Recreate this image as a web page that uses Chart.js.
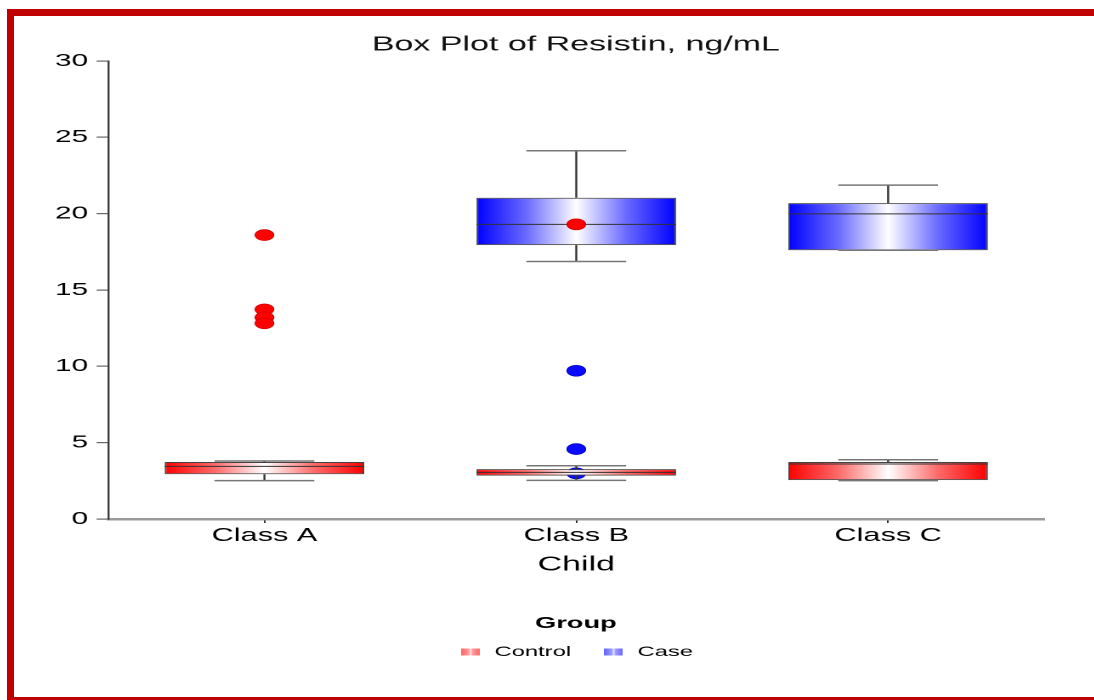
<!DOCTYPE html>
<html>
<head>
<meta charset="utf-8">
<title>Box Plot of Resistin</title>
<script src="https://cdn.jsdelivr.net/npm/chart.js@4.4.1/dist/chart.umd.min.js"></script>
<style>
  html, body { margin: 0; padding: 0; background: #fff; overflow: hidden; width: 1094px; height: 700px; }
  #frame { position: absolute; left: 7px; top: 9px; width: 2000px; height: 681px; border: 7px solid #c00000; border-right: none; }
  /* the source picture is stretched sideways, so the chart is drawn narrow and scaled in x */
  #stretch { position: absolute; left: 14px; top: 16px; width: 661px; height: 681px; transform: scaleX(1.7); transform-origin: 0 0; }
</style>
</head>
<body>
<div id="frame"></div>
<div id="stretch"><canvas id="boxChart" width="661" height="681"></canvas></div>
<script>
// Data
const categories = ["Class A", "Class B", "Class C"]
const yTicks = [0, 5, 10, 15, 20, 25, 30]

const controlQ1 = [2.93, 2.84, 2.55]
const controlQ3 = [3.73, 3.27, 3.73]
const controlMedian = [3.45, 3.05, 3.6]
const controlMin = [2.51, 2.53, 2.51]
const controlMax = [3.8, 3.49, 3.88]

const caseQ1 = [null, 17.94, 17.6]
const caseQ3 = [null, 21.04, 20.69]
const caseMedian = [null, 19.3, 19.99]
const caseMin = [null, 16.87, 17.6]
const caseMax = [null, 24.12, 21.87]

const controlOutlierCats = ["Class A", "Class A", "Class A", "Class A", "Class B"]
const controlOutlierValues = [18.6, 13.73, 13.2, 12.82, 19.3]
const caseOutlierCats = ["Class B", "Class B", "Class B"]
const caseOutlierValues = [9.71, 4.58, 2.99]

const BOX_PCT = 0.64
const FONT = "'Liberation Sans', Arial, sans-serif"

// horizontal gradient: saturated edges, white middle
function boxFill(edge, soft) {
  return (context) => {
    const chart = context.chart
    const xs = chart.scales.x
    if (context.type !== "data" || !xs || !xs.width) return edge
    const cx = xs.getPixelForValue(context.dataIndex)
    const half = (xs.width / categories.length) * BOX_PCT / 2
    const g = chart.ctx.createLinearGradient(cx - half, 0, cx + half, 0)
    g.addColorStop(0, edge)
    g.addColorStop(0.25, soft)
    g.addColorStop(0.5, "#ffffff")
    g.addColorStop(0.75, soft)
    g.addColorStop(1, edge)
    return g
  }
}

// little striped legend icons
function legendIcon(dark, mid, light) {
  const c = document.createElement("canvas")
  c.width = 11
  c.height = 7
  const g = c.getContext("2d")
  const grad = g.createLinearGradient(0, 0, 11, 0)
  grad.addColorStop(0, dark)
  grad.addColorStop(0.4, mid)
  grad.addColorStop(0.5, light)
  grad.addColorStop(0.6, mid)
  grad.addColorStop(1, dark)
  g.fillStyle = grad
  g.fillRect(0, 0, 11, 7)
  return c
}
const redIcon = legendIcon("#ff6464", "#ff9c9c", "#ffe4e4")
const blueIcon = legendIcon("#6464ff", "#9c9cff", "#e4e4ff")

function pairs(lo, hi) {
  return lo.map((v, i) => (v == null ? null : [v, hi[i]]))
}
function points(cats, vals) {
  return cats.map((c, i) => ({ x: c, y: vals[i] }))
}

// whiskers, caps and median drawn right after each box dataset
const whiskerPlugin = {
  id: "whiskers",
  afterDatasetDraw(chart, args) {
    const ds = chart.data.datasets[args.index]
    if (!ds.stats) return
    const y = chart.scales.y
    const ctx = chart.ctx
    ctx.save()
    args.meta.data.forEach((bar, i) => {
      const box = ds.data[i]
      if (!box) return
      const x = bar.x
      const w = bar.width
      const pLo = y.getPixelForValue(box[0])
      const pHi = y.getPixelForValue(box[1])
      const pMin = y.getPixelForValue(ds.stats.min[i])
      const pMax = y.getPixelForValue(ds.stats.max[i])
      const pMed = y.getPixelForValue(ds.stats.median[i])
      ctx.strokeStyle = "#333"
      ctx.lineWidth = 1.2
      ctx.beginPath()
      ctx.moveTo(x, pHi)
      ctx.lineTo(x, pMax)
      ctx.moveTo(x, pLo)
      ctx.lineTo(x, pMin)
      ctx.stroke()
      ctx.strokeStyle = "#777"
      ctx.lineWidth = 1.5
      ctx.beginPath()
      ctx.moveTo(x - w / 4, pMax)
      ctx.lineTo(x + w / 4, pMax)
      ctx.moveTo(x - w / 4, pMin)
      ctx.lineTo(x + w / 4, pMin)
      ctx.stroke()
      ctx.strokeStyle = "#333"
      ctx.lineWidth = 1
      ctx.beginPath()
      ctx.moveTo(x - w / 2, pMed)
      ctx.lineTo(x + w / 2, pMed)
      ctx.stroke()
    })
    ctx.restore()
  },
}

const ctx = document.getElementById("boxChart").getContext("2d")

const boxChart = new Chart(ctx, {
  type: "bar",
  data: {
    labels: categories,
    datasets: [
      {
        label: "Control",
        data: pairs(controlQ1, controlQ3),
        stats: { min: controlMin, median: controlMedian, max: controlMax },
        backgroundColor: boxFill("#ff0000", "#ff6a6a"),
        borderColor: "#444",
        borderWidth: 1,
        borderSkipped: false,
        grouped: false,
        barPercentage: 1,
        categoryPercentage: BOX_PCT,
        order: 2,
      },
      {
        label: "Case",
        data: pairs(caseQ1, caseQ3),
        stats: { min: caseMin, median: caseMedian, max: caseMax },
        backgroundColor: boxFill("#0000ff", "#6a6aff"),
        borderColor: "#444",
        borderWidth: 1,
        borderSkipped: false,
        grouped: false,
        barPercentage: 1,
        categoryPercentage: BOX_PCT,
        order: 4,
      },
      {
        type: "line",
        label: "Control outliers",
        data: points(controlOutlierCats, controlOutlierValues),
        showLine: false,
        pointRadius: 5.5,
        pointBackgroundColor: "#ff0000",
        pointBorderColor: "#d00000",
        pointBorderWidth: 0.6,
        order: 1,
      },
      {
        type: "line",
        label: "Case outliers",
        data: points(caseOutlierCats, caseOutlierValues),
        showLine: false,
        pointRadius: 5.5,
        pointBackgroundColor: "#0a0aff",
        pointBorderColor: "#0000c0",
        pointBorderWidth: 0.6,
        order: 3,
      },
    ],
  },
  options: {
    responsive: false,
    animation: false,
    devicePixelRatio: 2,
    layout: { padding: { left: 0, right: 0, top: 0, bottom: 28 } },
    scales: {
      x: {
        offset: true,
        afterFit: (scale) => { scale.height = 94.4 },
        grid: { display: true, drawOnChartArea: false, drawTicks: true, tickLength: 4, offset: false, color: "#333", lineWidth: 1 },
        border: { display: true, color: "#9a9a9a", width: 2.5 },
        ticks: { padding: 2, color: "#000", font: { family: FONT, size: 18 } },
        title: { display: true, text: "Child", color: "#000", font: { family: FONT, size: 20 }, padding: { top: 4.4, bottom: 36.4 } },
      },
      y: {
        min: 0,
        max: 30,
        afterFit: (scale) => { scale.width = 55.6 },
        afterBuildTicks: (scale) => { scale.ticks = yTicks.map((v) => ({ value: v })) },
        grid: { display: true, drawOnChartArea: false, drawTicks: true, tickLength: 7, color: "#666", lineWidth: 1.2 },
        border: { display: true, color: "#3a3a3a", width: 1.2 },
        ticks: { padding: 5, color: "#000", font: { family: FONT, size: 17.5 } },
      },
      // empty right-hand axis, only keeps the plot symmetric so the title and legend centre on it
      yRight: {
        position: "right",
        min: 0,
        max: 30,
        afterFit: (scale) => { scale.width = 55.1 },
        grid: { display: false },
        border: { display: false },
        ticks: { display: false },
      },
    },
    plugins: {
      title: {
        display: true,
        text: "Box Plot of Resistin, ng/mL",
        color: "#111",
        font: { family: FONT, size: 20, weight: "normal" },
        padding: { top: 17, bottom: 4 },
      },
      legend: {
        display: true,
        position: "bottom",
        title: {
          display: true,
          text: "Group",
          color: "#000",
          font: { family: FONT, size: 16, weight: "bold" },
          padding: { top: 2, bottom: -7.6 },
        },
        labels: {
          usePointStyle: true,
          boxWidth: 14,
          padding: 18,
          color: "#111",
          font: { family: FONT, size: 14 },
          generateLabels: () => [
            { text: "Control", pointStyle: redIcon, fillStyle: "#ff8080", strokeStyle: "rgba(0,0,0,0)", lineWidth: 0, hidden: false, datasetIndex: 0 },
            { text: "Case", pointStyle: blueIcon, fillStyle: "#8080ff", strokeStyle: "rgba(0,0,0,0)", lineWidth: 0, hidden: false, datasetIndex: 1 },
          ],
        },
      },
      tooltip: { enabled: false },
    },
  },
  plugins: [whiskerPlugin],
})
</script>
</body>
</html>
